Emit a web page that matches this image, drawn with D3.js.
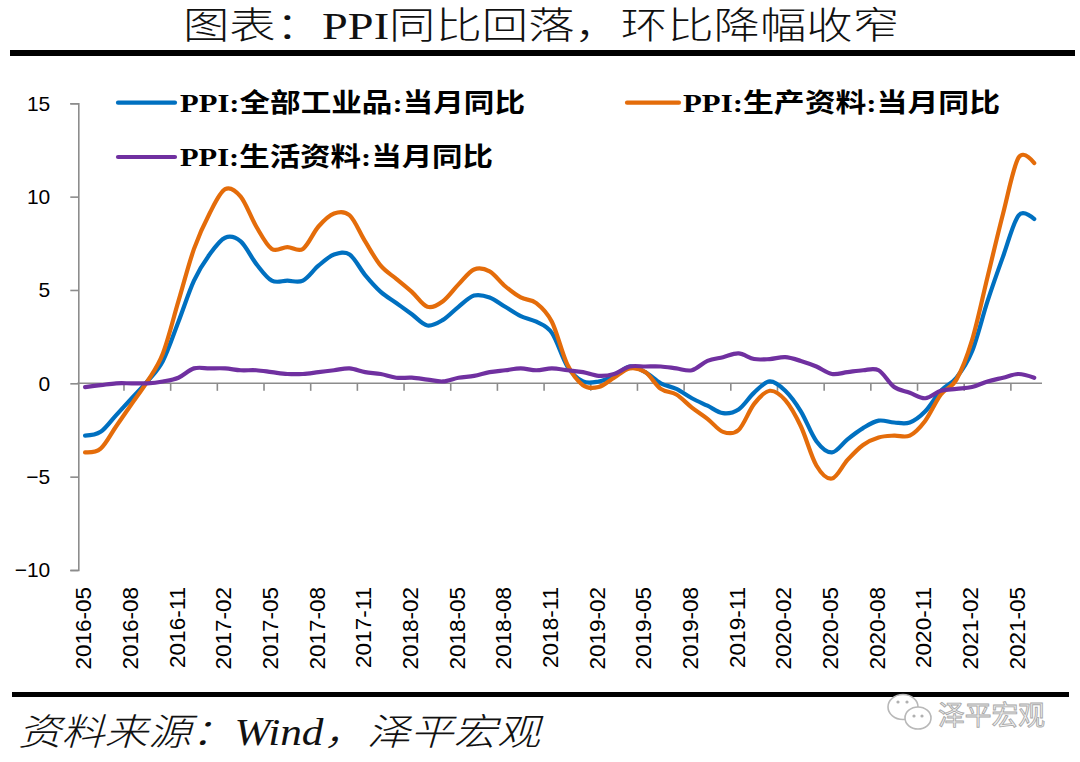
<!DOCTYPE html>
<html>
<head>
<meta charset="utf-8">
<script src="https://cdn.jsdelivr.net/npm/d3@7/dist/d3.min.js"></script>
<style>
  html, body { margin: 0; padding: 0; background: #fff; }
  svg { display: block; }
</style>
</head>
<body>
<svg id="chart" width="1080" height="762"></svg>
<script>
// months on the category axis
var months = [
  "2016-05","2016-06","2016-07","2016-08","2016-09","2016-10","2016-11","2016-12",
  "2017-01","2017-02","2017-03","2017-04","2017-05","2017-06","2017-07","2017-08","2017-09","2017-10","2017-11","2017-12",
  "2018-01","2018-02","2018-03","2018-04","2018-05","2018-06","2018-07","2018-08","2018-09","2018-10","2018-11","2018-12",
  "2019-01","2019-02","2019-03","2019-04","2019-05","2019-06","2019-07","2019-08","2019-09","2019-10","2019-11","2019-12",
  "2020-01","2020-02","2020-03","2020-04","2020-05","2020-06","2020-07","2020-08","2020-09","2020-10","2020-11","2020-12",
  "2021-01","2021-02","2021-03","2021-04","2021-05","2021-06"
];

// PPI:全部工业品:当月同比
var ppiAll = [
  -2.8, -2.6, -1.7, -0.8, 0.1, 1.2, 3.3, 5.5,
  6.9, 7.8, 7.6, 6.4, 5.5, 5.5, 5.5, 6.3, 6.9, 6.9, 5.8, 4.9,
  4.3, 3.7, 3.1, 3.4, 4.1, 4.7, 4.6, 4.1, 3.6, 3.3, 2.7, 0.9,
  0.1, 0.1, 0.4, 0.9, 0.6, 0.0, -0.3, -0.8, -1.2, -1.6, -1.4, -0.5,
  0.1, -0.4, -1.5, -3.1, -3.7, -3.0, -2.4, -2.0, -2.1, -2.1, -1.5, -0.4,
  0.3, 1.7, 4.4, 6.8, 9.0, 8.8
];

// PPI:生产资料:当月同比
var ppiProducer = [
  -3.7, -3.5, -2.3, -1.1, 0.1, 1.6, 4.4, 7.2,
  9.1, 10.4, 10.0, 8.4, 7.2, 7.3, 7.2, 8.4, 9.1, 9.0, 7.6, 6.3,
  5.6, 4.9, 4.1, 4.4, 5.3, 6.1, 6.0, 5.2, 4.6, 4.3, 3.3, 1.0,
  -0.1, -0.2, 0.3, 0.8, 0.6, -0.3, -0.6, -1.3, -1.9, -2.6, -2.5, -1.1,
  -0.4, -0.9, -2.3, -4.4, -5.1, -4.1, -3.3, -2.9, -2.8, -2.8, -2.0, -0.6,
  0.2, 2.3, 5.7, 9.1, 12.1, 11.8
];

// PPI:生活资料:当月同比
var ppiConsumer = [
  -0.2, -0.1, 0.0, 0.0, 0.0, 0.1, 0.3, 0.8,
  0.8, 0.8, 0.7, 0.7, 0.6, 0.5, 0.5, 0.6, 0.7, 0.8, 0.6, 0.5,
  0.3, 0.3, 0.2, 0.1, 0.3, 0.4, 0.6, 0.7, 0.8, 0.7, 0.8, 0.7,
  0.6, 0.4, 0.5, 0.9, 0.9, 0.9, 0.8, 0.7, 1.2, 1.4, 1.6, 1.3,
  1.3, 1.4, 1.2, 0.9, 0.5, 0.6, 0.7, 0.7, -0.2, -0.5, -0.8, -0.4,
  -0.3, -0.2, 0.1, 0.3, 0.5, 0.3
];

var yTicks = [15, 10, 5, 0, -5, -10];

var seriesNames = ["PPI:全部工业品:当月同比", "PPI:生产资料:当月同比", "PPI:生活资料:当月同比"];
var seriesColors = ["#0070C0", "#E46C0A", "#7030A0"];

var svg = d3.select("#chart");
var axisColor = "#8c8c8c";

// title
svg.append("text")
  .attr("x", 183)
  .attr("y", 39)
  .attr("textLength", 716)
  .attr("lengthAdjust", "spacingAndGlyphs")
  .style("font-family", "'Liberation Serif', 'Noto Sans CJK SC', serif")
  .style("font-size", "37px")
  .style("font-weight", 300)
  .attr("fill", "#111")
  .text("图表：PPI同比回落，环比降幅收窄");

svg.append("rect").attr("x", 10).attr("y", 50).attr("width", 1065).attr("height", 6).attr("fill", "#000");
svg.append("rect").attr("x", 12).attr("y", 692).attr("width", 1057).attr("height", 5).attr("fill", "#000");

// scales
var x = d3.scaleBand().domain(months).range([77.3, 1042]).padding(0);
var y = d3.scaleLinear().domain([-10, 15]).range([570, 103.3]);

function cx(i) { return x(months[i]) + x.bandwidth() / 2; }

// y axis
var yAxis = d3.axisLeft(y).tickValues(yTicks).tickSize(8).tickPadding(20).tickFormat(d3.format("d"));
var gy = svg.append("g").attr("transform", "translate(78.3,0)").call(yAxis);
gy.select(".domain").attr("stroke", axisColor).attr("stroke-width", 1.6);
gy.selectAll(".tick line").attr("stroke", axisColor).attr("stroke-width", 1.6);
gy.selectAll(".tick text")
  .style("font-family", "'Liberation Sans', Arial, sans-serif")
  .style("font-size", "21px")
  .attr("fill", "#000");

// x axis along zero line
var y0 = y(0);
svg.append("line")
  .attr("x1", 77.3).attr("x2", 1042)
  .attr("y1", y0).attr("y2", y0)
  .attr("stroke", axisColor).attr("stroke-width", 1.6);

var tickIdx = d3.range(0, months.length).filter(function (i) { return i % 3 === 0 && i > 0; });
svg.selectAll(".xtick")
  .data(tickIdx)
  .join("line")
  .attr("class", "xtick")
  .attr("x1", function (i) { return x(months[i]); })
  .attr("x2", function (i) { return x(months[i]); })
  .attr("y1", y0).attr("y2", y0 + 7.5)
  .attr("stroke", axisColor).attr("stroke-width", 1.6);

var labelIdx = d3.range(0, months.length).filter(function (i) { return i % 3 === 0; });
svg.selectAll(".xlabel")
  .data(labelIdx)
  .join("text")
  .attr("class", "xlabel")
  .attr("transform", function (i) { return "translate(" + (cx(i) - 2) + ",587) rotate(-90)"; })
  .attr("text-anchor", "end")
  .attr("dy", "0.36em")
  .style("font-family", "'Liberation Sans', Arial, sans-serif")
  .style("font-size", "22.5px")
  .attr("fill", "#000")
  .text(function (i) { return months[i]; });

// lines
var line = d3.line()
  .x(function (d, i) { return cx(i); })
  .y(function (d) { return y(d); })
  .curve(d3.curveCardinal.tension(0));

[ppiAll, ppiProducer, ppiConsumer].forEach(function (s, k) {
  svg.append("path")
    .datum(s)
    .attr("d", line)
    .attr("fill", "none")
    .attr("stroke", seriesColors[k])
    .attr("stroke-width", 4.2)
    .attr("stroke-linejoin", "round")
    .attr("stroke-linecap", "round");
});

// legend
var legendItems = [
  { x0: 118, x1: 175, tx: 180, tw: 345, y: 102.7 },
  { x0: 627, x1: 679, tx: 683, tw: 317, y: 102.7 },
  { x0: 118, x1: 175, tx: 180, tw: 313, y: 157 }
];
legendItems.forEach(function (d, k) {
  svg.append("line")
    .attr("x1", d.x0).attr("x2", d.x1)
    .attr("y1", d.y).attr("y2", d.y)
    .attr("stroke", seriesColors[k]).attr("stroke-width", 4.2)
    .attr("stroke-linecap", "round");
  svg.append("text")
    .attr("x", d.tx)
    .attr("y", d.y)
    .attr("dy", "0.36em")
    .attr("textLength", d.tw)
    .attr("lengthAdjust", "spacingAndGlyphs")
    .style("font-family", "'Liberation Serif', 'Noto Sans CJK SC', serif")
    .style("font-size", "26px")
    .style("font-weight", "bold")
    .attr("fill", "#000")
    .text(seriesNames[k]);
});

// source note
svg.append("text")
  .attr("x", 18)
  .attr("y", 745)
  .attr("textLength", 522)
  .attr("lengthAdjust", "spacingAndGlyphs")
  .style("font-family", "'Liberation Serif', 'Noto Sans CJK SC', serif")
  .style("font-size", "37px")
  .style("font-style", "italic")
  .style("font-weight", 300)
  .attr("fill", "#111")
  .text("资料来源：Wind，泽平宏观");

// watermark
var wm = svg.append("g").attr("class", "watermark");
wm.append("ellipse").attr("cx", 903).attr("cy", 707).attr("rx", 15).attr("ry", 12.5)
  .attr("fill", "#fff").attr("stroke", "#b8b8b8").attr("stroke-width", 1.6);
wm.append("ellipse").attr("cx", 918).attr("cy", 718).attr("rx", 13).attr("ry", 11)
  .attr("fill", "#fff").attr("stroke", "#b8b8b8").attr("stroke-width", 1.6);
[[898, 702], [907, 702], [914, 716], [922, 716]].forEach(function (p) {
  wm.append("circle").attr("cx", p[0]).attr("cy", p[1]).attr("r", 1.6).attr("fill", "#b0b0b0");
});
wm.append("text")
  .attr("x", 938)
  .attr("y", 725)
  .attr("textLength", 107)
  .attr("lengthAdjust", "spacingAndGlyphs")
  .style("font-family", "'Noto Sans CJK SC', sans-serif")
  .style("font-size", "27px")
  .attr("fill", "#f2f2f2")
  .attr("stroke", "#a8a8a8")
  .attr("stroke-width", 0.9)
  .text("泽平宏观");
</script>
</body>
</html>
